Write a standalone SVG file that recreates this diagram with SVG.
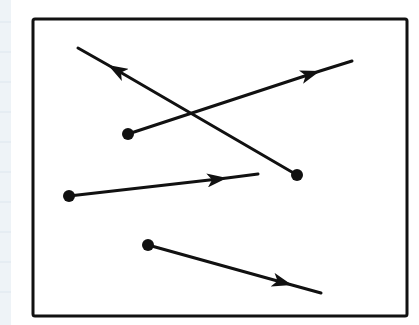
<svg xmlns="http://www.w3.org/2000/svg" width="419" height="325" viewBox="0 0 419 325">
  <defs>
    <style>
      .frame { fill: #ffffff; stroke: #111111; stroke-width: 3; }
      .vec { fill: none; stroke: #111111; stroke-width: 3; stroke-linecap: round; marker-mid: url(#head); }
      .dot { fill: #111111; }
      .grid { stroke: #dde6ee; stroke-width: 1; }
    </style>
    <marker id="head" viewBox="0 0 20 14" refX="20" refY="7" markerWidth="20" markerHeight="14" markerUnits="userSpaceOnUse" orient="auto">
      <path d="M0,0 L20,7 L0,14 L5,7 Z" fill="#111111"/>
    </marker>
  </defs>
  <rect x="0" y="0" width="419" height="325" fill="#ffffff"/>
  <rect x="0" y="0" width="11" height="325" fill="#eef3f7"/>
  <g id="grid">
    <line class="grid" x1="0" y1="22" x2="11" y2="22"/>
    <line class="grid" x1="0" y1="52" x2="11" y2="52"/>
    <line class="grid" x1="0" y1="82" x2="11" y2="82"/>
    <line class="grid" x1="0" y1="112" x2="11" y2="112"/>
    <line class="grid" x1="0" y1="142" x2="11" y2="142"/>
    <line class="grid" x1="0" y1="172" x2="11" y2="172"/>
    <line class="grid" x1="0" y1="202" x2="11" y2="202"/>
    <line class="grid" x1="0" y1="232" x2="11" y2="232"/>
    <line class="grid" x1="0" y1="262" x2="11" y2="262"/>
    <line class="grid" x1="0" y1="292" x2="11" y2="292"/>
  </g>
  <g id="frame">
    <rect class="frame" x="33" y="19" width="374" height="297" rx="2"/>
  </g>
  <g id="connectors">
    <path id="v1" class="vec" d="M297,175 L108,65 L78,48"/>
    <path id="v2" class="vec" d="M128,134 L320,71 L352,61"/>
    <path id="v3" class="vec" d="M69,196 L227,178 L258,174"/>
    <path id="v4" class="vec" d="M148,245 L292,285 L321,293"/>
  </g>
  <g id="dots">
    <circle id="d1" class="dot" cx="297" cy="175" r="6"/>
    <circle id="d2" class="dot" cx="128" cy="134" r="6"/>
    <circle id="d3" class="dot" cx="69" cy="196" r="6"/>
    <circle id="d4" class="dot" cx="148" cy="245" r="6"/>
  </g>
</svg>
